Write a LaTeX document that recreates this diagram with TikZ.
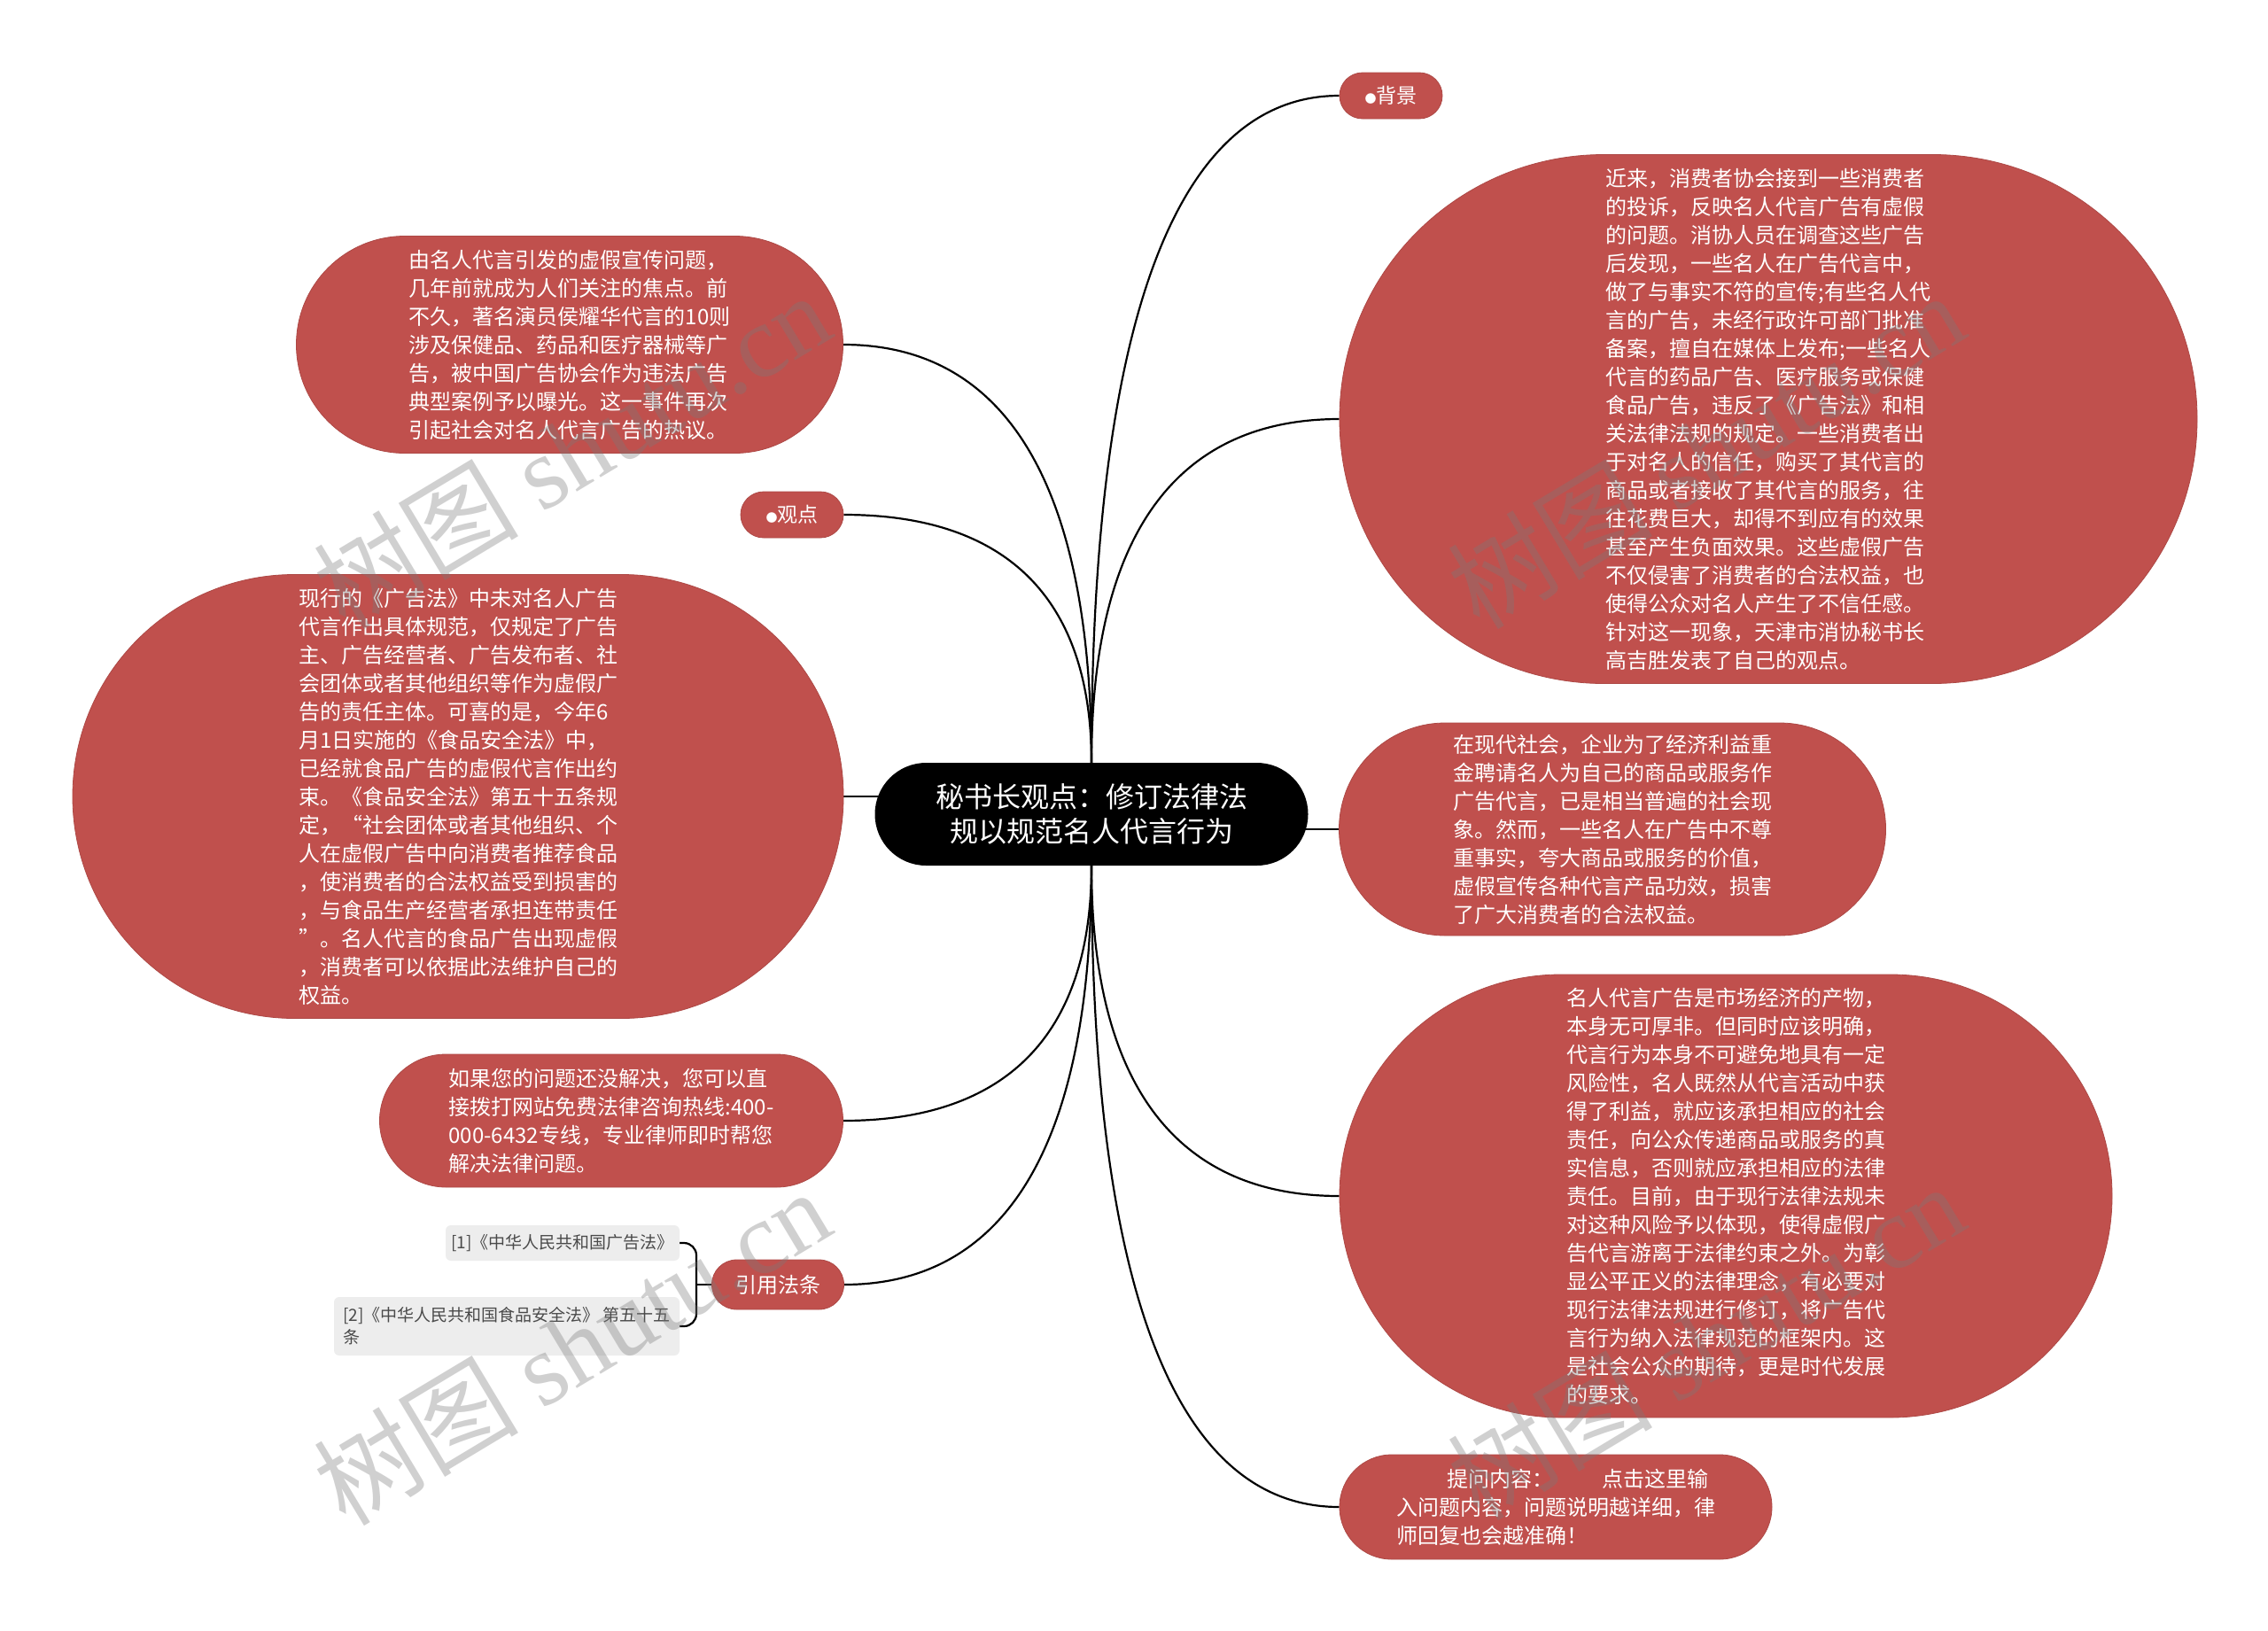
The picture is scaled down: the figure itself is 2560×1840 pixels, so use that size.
\documentclass[tikz,border=0pt]{standalone}
\usepackage{fontspec}
\setmainfont{Noto Sans CJK SC}
\newfontfamily\wmserif{Liberation Serif}
\usetikzlibrary{backgrounds,calc}
\definecolor{nodered}{HTML}{C0504D}
\definecolor{citegray}{HTML}{EDEDED}
\definecolor{citetext}{HTML}{4A4A4A}
\definecolor{wmgray}{HTML}{7A7A7A}
\begin{document}
\begin{tikzpicture}[x=1pt,y=-1pt,
  redbox/.style={fill=nodered, draw=nodered!90!black, line width=0.8pt, text=white, align=left, inner sep=0pt, font=\fontsize{24}{32}\selectfont},
  stadium/.style 2 args={minimum width=#1, minimum height=#2, rounded corners=#2/2-0.05},
  link/.style={line width=2.2pt, black},
  curvy/.style={to path={.. controls ($(\tikztostart)!0.66!(\tikztostart |- \tikztotarget)$) and ($(\tikztotarget)!0.66!(\tikztostart |- \tikztotarget)$) .. (\tikztotarget)}},
  cite/.style={fill=citegray, rounded corners=6, text=citetext, align=left, inner sep=0pt, font=\fontsize{19}{25}\selectfont},
  wm/.style={text=wmgray, text opacity=0.35, font=\fontsize{116}{116}\selectfont}
]
\useasboundingbox (0,0) rectangle (2560,1840);

% centre
\node[fill=black, stadium={489}{116}, text=white, align=center, inner sep=0pt, font=\fontsize{32}{39}\selectfont] (ctr) at (1232,919) {秘书长观点：修订法律法\\规以规范名人代言行为};

% right side
\node[redbox, stadium={116}{52}, align=center, font=\fontsize{23}{28}\selectfont] (bj) at (1570,108) {{\fontsize{13}{13}\selectfont ●}背景};

\node[redbox, stadium={968}{597}] (F) at (1996,473) {近来，消费者协会接到一些消费者\\
的投诉，反映名人代言广告有虚假\\
的问题。消协人员在调查这些广告\\
后发现，一些名人在广告代言中，\\
做了与事实不符的宣传;有些名人代\\
言的广告，未经行政许可部门批准\\
备案，擅自在媒体上发布;一些名人\\
代言的药品广告、医疗服务或保健\\
食品广告，违反了《广告法》和相\\
关法律法规的规定。一些消费者出\\
于对名人的信任，购买了其代言的\\
商品或者接收了其代言的服务，往\\
往花费巨大，却得不到应有的效果\\
甚至产生负面效果。这些虚假广告\\
不仅侵害了消费者的合法权益，也\\
使得公众对名人产生了不信任感。\\
针对这一现象，天津市消协秘书长\\
高吉胜发表了自己的观点。};

\node[redbox, stadium={617}{240}] (G) at (1820,936) {在现代社会，企业为了经济利益重\\
金聘请名人为自己的商品或服务作\\
广告代言，已是相当普遍的社会现\\
象。然而，一些名人在广告中不尊\\
重事实，夸大商品或服务的价值，\\
虚假宣传各种代言产品功效，损害\\
了广大消费者的合法权益。};

\node[redbox, stadium={872}{500}] (H) at (1948,1350) {名人代言广告是市场经济的产物，\\
本身无可厚非。但同时应该明确，\\
代言行为本身不可避免地具有一定\\
风险性，名人既然从代言活动中获\\
得了利益，就应该承担相应的社会\\
责任，向公众传递商品或服务的真\\
实信息，否则就应承担相应的法律\\
责任。目前，由于现行法律法规未\\
对这种风险予以体现，使得虚假广\\
告代言游离于法律约束之外。为彰\\
显公平正义的法律理念，有必要对\\
现行法律法规进行修订，将广告代\\
言行为纳入法律规范的框架内。这\\
是社会公众的期待，更是时代发展\\
的要求。};

\node[redbox, stadium={488}{118}] (I) at (1756,1701) {\hspace*{57pt}提问内容：\hspace{55pt}点击这里输\\
入问题内容，问题说明越详细，律\\
师回复也会越准确！};

% left side
\node[redbox, stadium={617}{245}] (A) at (643,389) {由名人代言引发的虚假宣传问题，\\
几年前就成为人们关注的焦点。前\\
不久，著名演员侯耀华代言的10则\\
涉及保健品、药品和医疗器械等广\\
告，被中国广告协会作为违法广告\\
典型案例予以曝光。这一事件再次\\
引起社会对名人代言广告的热议。};

\node[redbox, stadium={116}{52}, align=center, font=\fontsize{23}{28}\selectfont] (gd) at (894,581) {{\fontsize{13}{13}\selectfont ●}观点};

\node[redbox, stadium={870}{501}] (C) at (517,899) {现行的《广告法》中未对名人广告\\
代言作出具体规范，仅规定了广告\\
主、广告经营者、广告发布者、社\\
会团体或者其他组织等作为虚假广\\
告的责任主体。可喜的是，今年6\\
月1日实施的《食品安全法》中，\\
已经就食品广告的虚假代言作出约\\
束。《食品安全法》第五十五条规\\
定，“社会团体或者其他组织、个\\
人在虚假广告中向消费者推荐食品\\
，使消费者的合法权益受到损害的\\
，与食品生产经营者承担连带责任\\
”。名人代言的食品广告出现虚假\\
，消费者可以依据此法维护自己的\\
权益。};

\node[redbox, stadium={523}{150}] (D) at (690,1265) {如果您的问题还没解决，您可以直\\
接拨打网站免费法律咨询热线:400-\\
000-6432专线，专业律师即时帮您\\
解决法律问题。};

\node[redbox, stadium={149}{56}, align=center, font=\fontsize{24}{28}\selectfont] (E) at (878,1450) {引用法条};

\node[cite, minimum width=264, minimum height=40] (c1) at (635,1403) {[1]《中华人民共和国广告法》};
\node[cite, minimum width=390, minimum height=66] (c2) at (572,1497) {[2]《中华人民共和国食品安全法》 第五十五\\条};

\coordinate (bk) at (786,1450);

% connectors
\begin{scope}[on background layer]
\fill[white] (0,0) rectangle (2560,1840);
\draw[link, curvy] (ctr.north) to (bj.west);
\draw[link, curvy] (ctr.north) to (F.west);
\draw[link, curvy] (ctr.north) to (A.east);
\draw[link, curvy] (ctr.north) to (gd.east);
\draw[link, curvy] (ctr.south) to (H.west);
\draw[link, curvy] (ctr.south) to (I.west);
\draw[link, curvy] (ctr.south) to (D.east);
\draw[link, curvy] (ctr.south) to (E.east);
\draw[link] (C.east) -- (C.east -| ctr.center);
\draw[link] (G.west) -- (G.west -| ctr.center);
\draw[link, rounded corners=14] (c1.east) -| (bk) |- (c2.east);
\draw[link] (bk) -- (E.west);
\end{scope}

% watermarks
\node[wm, rotate=31] (w1) at (645,508) {树图 {\wmserif shutu.cn}};
\node[wm, rotate=31] (w2) at (1925,508) {树图 {\wmserif shutu.cn}};
\node[wm, rotate=31] (w3) at (645,1520) {树图 {\wmserif shutu.cn}};
\node[wm, rotate=31] (w4) at (1925,1514) {树图 {\wmserif shutu.cn}};
\end{tikzpicture}
\end{document}
